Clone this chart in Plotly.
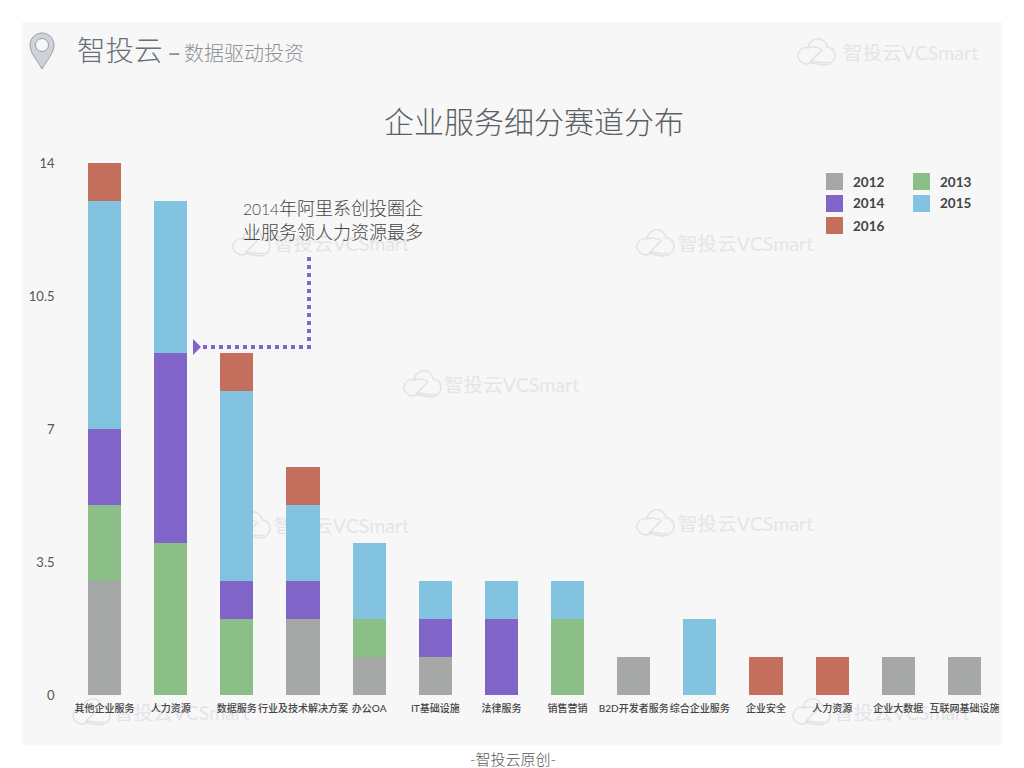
import plotly.graph_objects as go

W, H = 1024, 768
CJK = "Lato, 'Noto Sans CJK SC', sans-serif"

categories = ['其他企业服务', '人力资源', '数据服务', '行业及技术解决方案', '办公OA', 'IT基础设施', '法律服务',
              '销售营销', 'B2D开发者服务', '综合企业服务', '企业安全', '人力资源', '企业大数据', '互联网基础设施']
v2012 = [3, 0, 0, 2, 1, 1, 0, 0, 1, 0, 0, 0, 1, 1]
v2013 = [2, 4, 2, 0, 1, 0, 0, 2, 0, 0, 0, 0, 0, 0]
v2014 = [2, 5, 1, 1, 0, 1, 2, 0, 0, 0, 0, 0, 0, 0]
v2015 = [6, 4, 5, 2, 2, 1, 1, 1, 0, 2, 0, 0, 0, 0]
v2016 = [1, 0, 1, 1, 0, 0, 0, 0, 0, 0, 1, 1, 0, 0]
years = ['2012', '2013', '2014', '2015', '2016']
series = [v2012, v2013, v2014, v2015, v2016]
colors = ['#a5a8a6', '#8cbf87', '#8064c7', '#82c4e0', '#c46e5e']
y_ticks = [0, 3.5, 7, 10.5, 14]
y_labels = ['0', '3.5', '7', '10.5', '14']


def px(x):
    return x / W


def py(y):
    return 1 - y / H


def text(x, y, s, size, color, anchor='left', weight=None):
    return dict(xref='paper', yref='paper', x=px(x), y=py(y), text=s, showarrow=False, xanchor=anchor,
                yanchor='middle', font=dict(family=CJK, size=size, color=color, weight=weight))


def path(points, ox=0, oy=0):
    # pixel commands -> paper coords, plotly wants one C per curve segment
    out = []
    for cmd, coords in points:
        if cmd == 'C':
            for i in range(0, len(coords), 3):
                out.append('C' + ' '.join(f'{px(ox + a):.5f},{py(oy + b):.5f}' for a, b in coords[i:i + 3]))
        else:
            out.append(cmd + ' '.join(f'{px(ox + a):.5f},{py(oy + b):.5f}' for a, b in coords))
    return ' '.join(out)


fig = go.Figure()
x_pos = list(range(len(categories)))
for year, vals, color in zip(years, series, colors):
    fig.add_trace(go.Bar(x=x_pos, y=vals, name=year, marker=dict(color=color, line_width=0)))

shapes = [dict(type='rect', xref='paper', yref='paper', x0=px(22), x1=px(1002), y0=py(745), y1=py(22),
               fillcolor='#f7f7f7', line_width=0, layer='below')]

# watermarks sit behind the bars: icon x, icon y, text x
CLOUD = [('M', [(11, 27)]),
         ('C', [(3, 27), (-1, 20), (2, 15), (4, 11), (8, 10), (11, 11), (12, 3), (21, -1), (27, 4),
                (29, 6), (30, 8), (30, 10), (35, 10), (38, 14), (38, 18), (38, 24), (33, 28), (27, 28),
                (20, 28), (16, 24), (11, 27)]),
         ('M', [(11, 11)]),
         ('C', [(16, 9), (22, 10), (25, 13)]),
         ('L', [(13, 25)]),
         ('C', [(19, 22), (24, 28), (32, 25)])]
for mx, my, tx in [(797, 37, 840), (636, 228, 675), (403, 369, 441), (232, 510, 271), (636, 508, 675), (232, 228, 271),
                   (72, 697, 111), (792, 697, 831)]:
    shapes.append(dict(type='path', xref='paper', yref='paper', path=path(CLOUD, mx, my),
                       line=dict(color='#e1e2e5', width=1.5), layer='below'))
    shapes.append(dict(type='rect', xref='paper', yref='paper', x0=px(tx), x1=px(tx + 147),
                       y0=py(my + 25), y1=py(my + 5), line_width=0, fillcolor='rgba(0,0,0,0)', layer='below',
                       label=dict(text='智投云VCSmart', textposition='middle left', padding=0,
                                  font=dict(family=CJK, size=19.6, color='#e4e5e9'))))

# location pin in the header
PIN = [('M', [(42, 69)]),
       ('C', [(37, 60), (30, 53), (30, 45), (30, 38), (36, 33), (42, 33), (48, 33), (54, 38), (54, 45),
              (54, 53), (47, 60), (42, 69)]),
       ('Z', [])]
shapes.append(dict(type='path', xref='paper', yref='paper', path=path(PIN), fillcolor='#ced3db',
                   line=dict(color='#999ea5', width=1)))
shapes.append(dict(type='circle', xref='paper', yref='paper', x0=px(35.5), x1=px(48.5), y0=py(51.5), y1=py(38.5),
                   fillcolor='#f7f7f7', line=dict(color='#999ea5', width=1)))

# callout line and arrow head
shapes.append(dict(type='path', xref='paper', yref='paper',
                   path=path([('M', [(309, 257)]), ('L', [(309, 347)]), ('L', [(201, 347)])]),
                   line=dict(color='#8064c7', width=4, dash='4px,4px')))
shapes.append(dict(type='path', xref='paper', yref='paper',
                   path=path([('M', [(193, 339)]), ('L', [(201, 347)]), ('L', [(193, 355)]), ('Z', [])]),
                   fillcolor='#8064c7', line_width=0))

annotations = [
    text(75, 50, '智投云', 28.5, '#6a7078', weight=300),
    text(165, 52, '–', 25, '#8d9196'),
    text(182, 53, '数据驱动投资', 20, '#8d9196', weight=300),
    text(533.5, 121, '企业服务细分赛道分布', 30, '#5b5f66', 'center', weight=300),
    text(241, 208, '<span style="font-size:15.5px">2014</span>年阿里系创投圈企', 18, '#444444', weight=300),
    text(241, 232, '业服务领人力资源最多', 18, '#444444', weight=300),
    text(512.5, 758.5, '-智投云原创-', 15, '#555555', 'center', weight=300),
]

# legend, two columns filled row by row
for i, (year, color) in enumerate(zip(years, colors)):
    lx = 826 + 87 * (i % 2)
    ly = 173 + 22 * (i // 2)
    shapes.append(dict(type='rect', xref='paper', yref='paper', x0=px(lx), x1=px(lx + 17), y0=py(ly + 17), y1=py(ly),
                       fillcolor=color, line_width=0))
    annotations.append(text(lx + 25, ly + 8.5, year, 13.5, '#444444', weight=700))

fig.update_layout(
    width=W, height=H, barmode='stack', bargap=0.5, showlegend=False,
    margin=dict(l=0, r=0, t=0, b=0), paper_bgcolor='white', plot_bgcolor='rgba(0,0,0,0)',
    shapes=shapes, annotations=annotations,
    xaxis=dict(domain=[px(71.5), px(997.5)], range=[-0.5, 13.5], tickmode='array', tickvals=x_pos, ticktext=categories,
               tickangle=0, showgrid=False, zeroline=False, showline=False, ticks='', automargin=False,
               tickfont=dict(family=CJK, size=10, color='#444444', weight=500), ticklabelstandoff=6),
    yaxis=dict(domain=[py(695), py(163)], range=[0, 14], tickmode='array', tickvals=y_ticks, ticktext=y_labels,
               showgrid=False, zeroline=False, showline=False, ticks='', automargin=False,
               tickfont=dict(family=CJK, size=13, color='#555555'), ticklabelstandoff=16),
)

fig.write_html("out.html", config={'displayModeBar': False}, post_script="document.body.style.margin='0';")
